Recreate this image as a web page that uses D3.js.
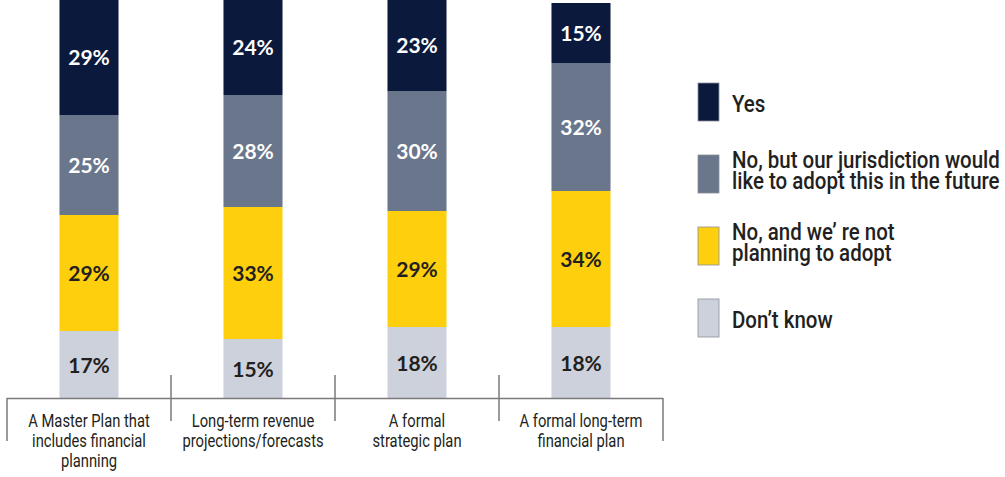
<!DOCTYPE html>
<html>
<head>
<meta charset="utf-8">
<script src="https://cdn.jsdelivr.net/npm/d3@7"></script>
<style>
  html, body { margin: 0; padding: 0; background: #fff; }
  svg { display: block; }
</style>
</head>
<body>
<svg id="chart" width="1005" height="477"></svg>
<script>
// Survey responses per planning instrument (percent of respondents)
const categories = [
  ["A Master Plan that", "includes financial", "planning"],
  ["Long-term revenue", "projections/forecasts"],
  ["A formal", "strategic plan"],
  ["A formal long-term", "financial plan"]
];
const dontKnow = [17, 15, 18, 18];
const notPlanning = [29, 33, 29, 34];
const wouldLike = [25, 28, 30, 32];
const yes = [29, 24, 23, 15];

// Legend entries, top to bottom
const legendLabels = [
  ["Yes"],
  ["No, but our jurisdiction would", "like to adopt this in the future"],
  ["No, and we’ re not", "planning to adopt"],
  ["Don’t know"]
];

const colors = ["#CDD1DB", "#FDCF0C", "#6A768B", "#0B1A3C"];
const labelColors = ["#231F20", "#231F20", "#FFFFFF", "#FFFFFF"];

// Condensed look: Roboto squeezed horizontally
const narrowFont = "Roboto, 'DejaVu Sans', sans-serif";

const svg = d3.select("#chart");

const x = d3.scaleBand()
  .domain(d3.range(categories.length))
  .range([7, 663])
  .paddingInner(0.64)
  .paddingOuter(0.32);
const y = d3.scaleLinear().domain([0, 100]).range([399, -1]);

const rows = categories.map((c, i) => ({
  i, s0: dontKnow[i], s1: notPlanning[i], s2: wouldLike[i], s3: yes[i]
}));
const stacked = d3.stack().keys(["s0", "s1", "s2", "s3"])(rows);

const layers = svg.append("g").selectAll("g")
  .data(stacked).join("g")
  .attr("fill", (d, k) => colors[k]);

layers.selectAll("rect")
  .data(d => d).join("rect")
  .attr("x", d => x(d.data.i))
  .attr("width", x.bandwidth())
  .attr("y", d => y(d[1]))
  .attr("height", d => y(d[0]) - y(d[1]));

// Value labels centred in each segment
stacked.forEach((layer, k) => {
  svg.append("g").selectAll("text")
    .data(layer).join("text")
    .attr("x", d => x(d.data.i) + x.bandwidth() / 2)
    .attr("y", d => (y(d[0]) + y(d[1])) / 2)
    .attr("dy", "0.36em")
    .attr("text-anchor", "middle")
    .attr("font-family", "Lato, 'Noto Sans', sans-serif")
    .attr("font-weight", 700)
    .attr("font-size", 21)
    .attr("fill", labelColors[k])
    .text(d => (d[1] - d[0]) + "%");
});

// Category axis: baseline, separators and outer brackets
const axis = svg.append("g").attr("stroke", "#7A7A7A").attr("stroke-width", 1.5);
const [r0, r1] = x.range();
const step = x.step();
axis.append("line").attr("x1", r0).attr("x2", r1).attr("y1", 398.5).attr("y2", 398.5);
[r0, r1].forEach(px => axis.append("line")
  .attr("x1", px).attr("x2", px).attr("y1", 398).attr("y2", 441));
d3.range(1, categories.length).forEach(k => {
  const px = r0 + k * step;
  axis.append("line").attr("x1", px).attr("x2", px).attr("y1", 375).attr("y2", 421);
});

const catLabels = svg.append("g").selectAll("text")
  .data(categories).join("text")
  .attr("transform", (d, i) => `translate(${x(i) + x.bandwidth() / 2},427) scale(0.82,1)`)
  .attr("text-anchor", "middle")
  .attr("font-family", narrowFont)
  .attr("font-size", 18)
  .attr("fill", "#231F20");
catLabels.selectAll("tspan")
  .data(d => d)
  .join("tspan")
  .attr("x", 0)
  .attr("y", (d, j) => j * 20)
  .text(d => d);

// Legend
const legendTop = [83, 155, 227, 299];
const legend = svg.append("g");
[3, 2, 1, 0].forEach((k, n) => {
  const g = legend.append("g").attr("transform", `translate(698,${legendTop[n]})`);
  g.append("rect")
    .attr("width", 21).attr("height", 38)
    .attr("fill", colors[k])
    .attr("stroke", "#8A8F99").attr("stroke-width", 0.8);
  const lines = legendLabels[n];
  const base = lines.length === 1 ? 28.5 : 13;
  const t = g.append("text")
    .attr("transform", `translate(34,${base}) scale(0.89,1)`)
    .attr("font-family", narrowFont)
    .attr("font-weight", 500)
    .attr("font-size", 23)
    .attr("fill", "#231F20");
  t.selectAll("tspan").data(lines).join("tspan")
    .attr("x", 0)
    .attr("y", (d, j) => j * 21)
    .text(d => d);
});
</script>
</body>
</html>
